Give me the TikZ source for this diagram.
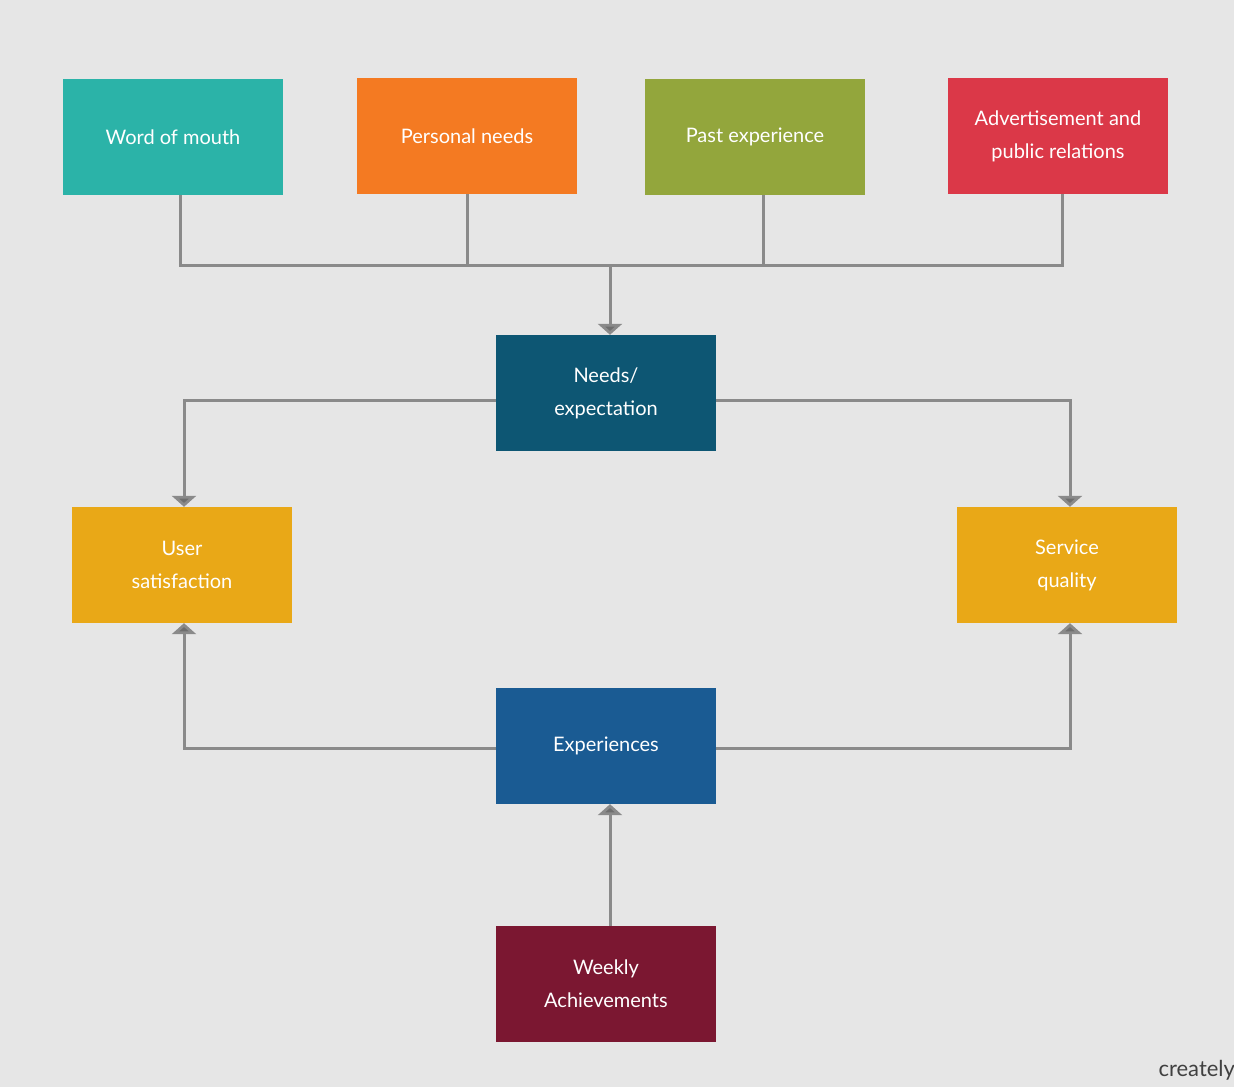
\documentclass[tikz,border=0pt]{standalone}
\usepackage{fontspec}
\setmainfont{Lato}
\usetikzlibrary{arrows.meta}
\definecolor{bg}{HTML}{E6E6E6}
\definecolor{cteal}{HTML}{2BB3A8}
\definecolor{corange}{HTML}{F47A22}
\definecolor{colive}{HTML}{93A63C}
\definecolor{cred}{HTML}{DB3848}
\definecolor{cyellow}{HTML}{E9A817}
\definecolor{cneeds}{HTML}{0D5673}
\definecolor{cexp}{HTML}{1A5B93}
\definecolor{cweek}{HTML}{7B1731}
\definecolor{cline}{HTML}{8A8A8A}
\begin{document}
\begin{tikzpicture}[x=1pt,y=-1pt,
  box/.style={draw=none,minimum width=220pt,minimum height=116pt,inner sep=0pt,
    text=white,align=center,font=\fontsize{20}{33}\selectfont},
  conn/.style={draw=cline,line width=3pt},
  arr/.style={conn,-{Triangle[length=11pt,width=24pt,fill=cline!80!black]}}]
\fill[bg] (0,0) rectangle (1234,1087);
\useasboundingbox (0,0) rectangle (1234,1087);
\node[box,fill=cteal] (wom) at (173,137) {Word of mouth};
\node[box,fill=corange] (pn) at (467,136) {Personal needs};
\node[box,fill=colive] (pe) at (755,137) {Past experience};
\node[box,fill=cred] (adv) at (1058,136) {Advertisement and\\public relations};
\node[box,fill=cneeds] (needs) at (606,393) {Needs/\\expectation};
\node[box,fill=cyellow] (ls) at (182,565) {User\\satisfaction};
\node[box,fill=cyellow] (rs) at (1067,565) {Service\\quality};
\node[box,fill=cexp] (exp) at (606,746) {Experiences};
\node[box,fill=cweek] (wa) at (606,984) {Weekly\\Achievements};
\coordinate (j) at (610,265);
\draw[conn] (wom.south -| 180,0) |- (j);
\draw[conn] (adv.south -| 1062,0) |- (j);
\draw[conn] (pn.south) -- (pn.south |- j);
\draw[conn] (pe.south -| 763,0) -- (763,265);
\draw[arr] (j) -- (needs.north -| j);
\draw[arr] (needs.west |- 0,400) -| (ls.north -| 184,0);
\draw[arr] (needs.east |- 0,400) -| (rs.north -| 1070,0);
\draw[arr] (exp.west |- 0,748) -| (ls.south -| 184,0);
\draw[arr] (exp.east |- 0,748) -| (rs.south -| 1070,0);
\draw[arr] (wa.north -| 610,0) -- (exp.south -| 610,0);
\node[anchor=west,text=black!75,font=\fontsize{22}{26}\selectfont] (cr) at (1155,1070) {creately};
\end{tikzpicture}
\end{document}
